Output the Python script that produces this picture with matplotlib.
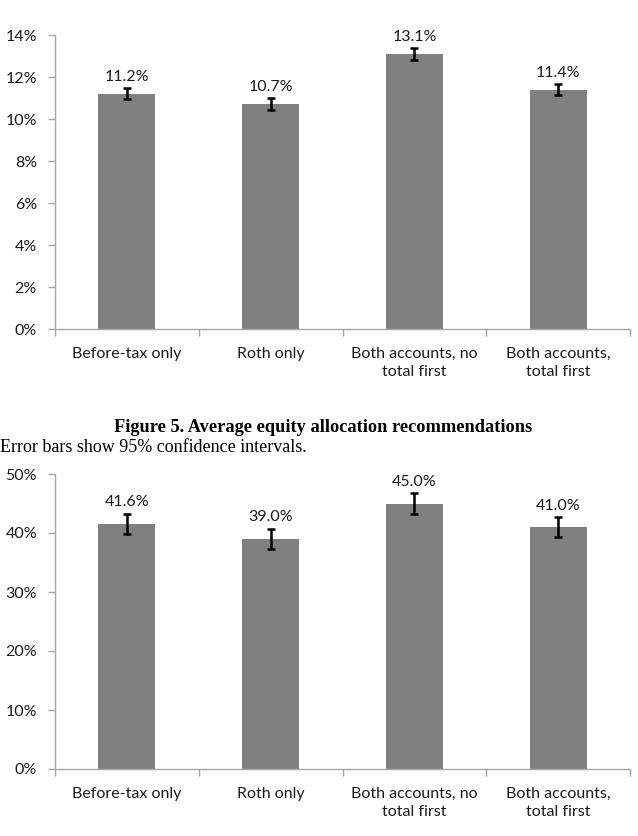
import matplotlib
matplotlib.use("Agg")
import matplotlib.pyplot as plt
import numpy as np
from matplotlib.ticker import FuncFormatter, MultipleLocator, FixedLocator

categories = ["Before-tax only", "Roth only", "Both accounts, no\ntotal first", "Both accounts,\ntotal first"]
top_values = [11.2, 10.7, 13.1, 11.4]
top_err = [0.26, 0.28, 0.28, 0.26]
bottom_values = [41.6, 39.0, 45.0, 41.0]
bottom_err = [1.7, 1.7, 1.7, 1.7]

FONT = "Lato"
BAR = "#808080"
AX = "#a6a6a6"
TXT = "#1a1a1a"

fig = plt.figure(figsize=(6.38, 8.36), dpi=100)
W, H = 638, 836

def make_ax(top_px, bot_px):
    l, r = 55, 630
    return fig.add_axes([l / W, 1 - bot_px / H, (r - l) / W, (bot_px - top_px) / H])

def draw(ax, vals, errs, ymax, step):
    x = np.arange(len(vals))
    ax.bar(x, vals, width=0.395, color=BAR, zorder=2)
    ax.errorbar(x, vals, yerr=errs, fmt="none", ecolor="black", elinewidth=1.8,
                capsize=3, capthick=1.8, zorder=3)
    for xi, v, e in zip(x, vals, errs):
        ax.text(xi, v + e + ymax * 0.015, f"{v:.1f}%", ha="center", va="bottom",
                fontsize=11.5, family=FONT, color=TXT)
    ax.set_xlim(-0.5, len(vals) - 0.5)
    ax.set_ylim(0, ymax)
    ax.yaxis.set_major_locator(MultipleLocator(step))
    ax.yaxis.set_major_formatter(FuncFormatter(lambda v, p: f"{v:.0f}%"))
    ax.set_xticks(x)
    ax.set_xticklabels(categories, fontsize=11.5, family=FONT, color=TXT,
                       linespacing=1.4)
    ax.xaxis.set_minor_locator(FixedLocator(np.arange(-0.5, len(vals), 1.0)))
    ax.tick_params(axis="x", which="major", length=0, pad=13)
    ax.tick_params(axis="x", which="minor", length=5, color=AX, width=1)
    ax.tick_params(axis="y", length=5, color=AX, width=1, labelsize=11.5, pad=8,
                   labelcolor=TXT)
    for lab in ax.get_yticklabels():
        lab.set_family(FONT)
    for s in ["top", "right"]:
        ax.spines[s].set_visible(False)
    for s in ["left", "bottom"]:
        ax.spines[s].set_color(AX)
        ax.spines[s].set_linewidth(1)

ax1 = make_ax(35, 329)
draw(ax1, top_values, top_err, 14, 2)
ax2 = make_ax(474, 769)
draw(ax2, bottom_values, bottom_err, 50, 10)

fig.text(323 / W, 1 - 428 / H, "Figure 5. Average equity allocation recommendations",
         ha="center", va="center", fontsize=13.2, fontweight="bold", family="Liberation Serif")
fig.text(0.0, 1 - 448 / H, "Error bars show 95% confidence intervals.",
         ha="left", va="center", fontsize=13, family="Liberation Serif")

fig.savefig("out.png", dpi=100)
